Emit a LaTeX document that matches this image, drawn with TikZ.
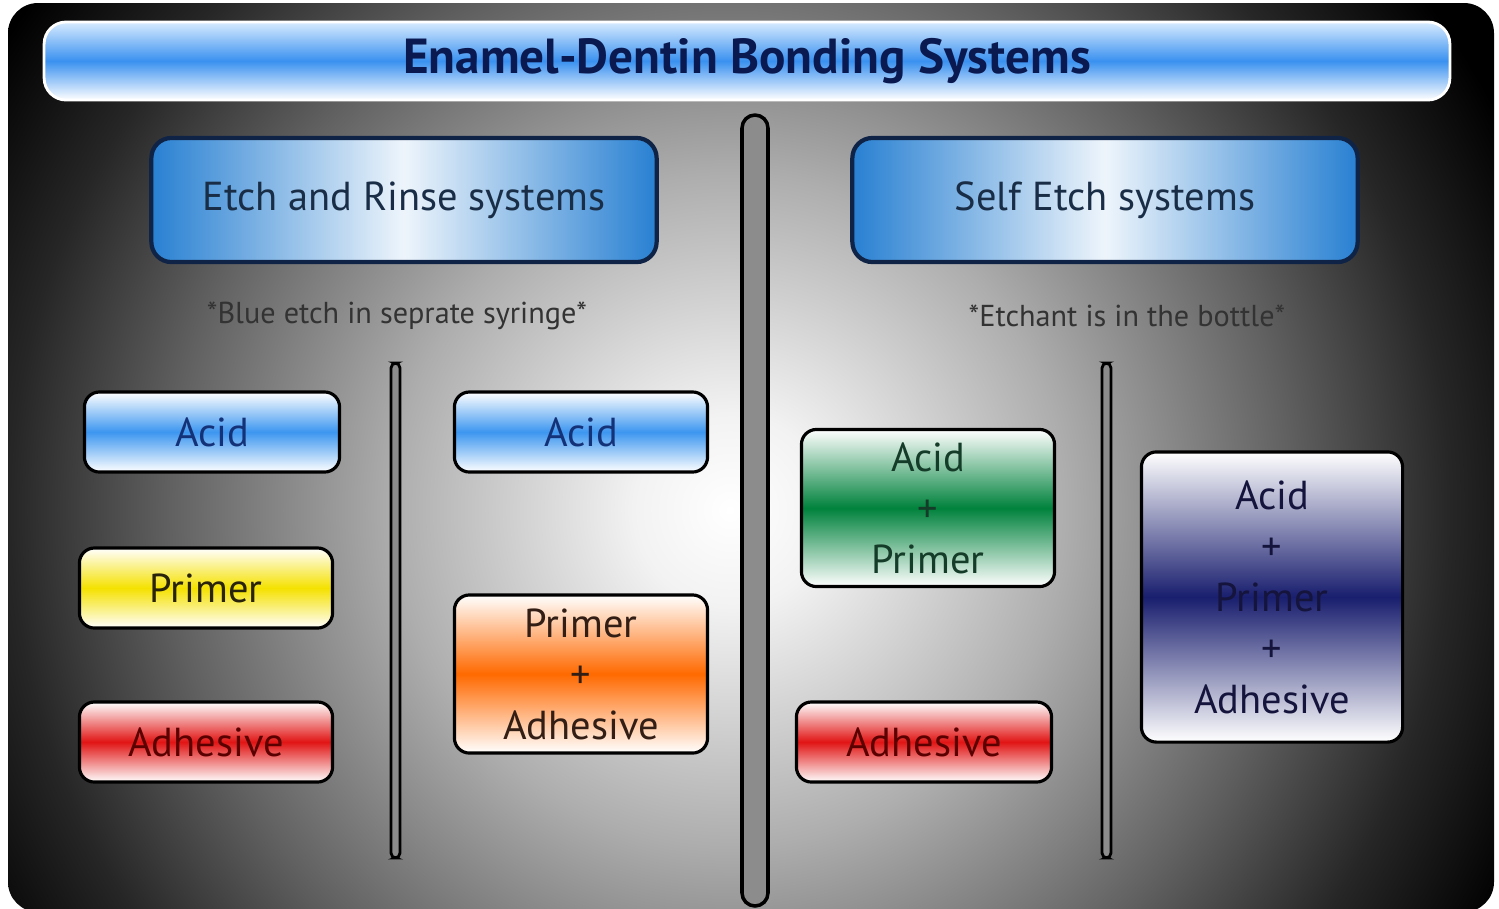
\documentclass[tikz,border=0pt]{standalone}
\usepackage{fontspec}
\setmainfont{PT Sans}
\pgfdeclareradialshading{panelglow}{\pgfpoint{0bp}{0bp}}{color(0bp)=(white); color(3bp)=(white!95!black); color(10.5bp)=(black!32); color(17.5bp)=(black!62); color(22.5bp)=(black!85); color(27bp)=(black); color(40bp)=(black)}
\definecolor{titleblue}{RGB}{58,145,240}
\definecolor{titletop}{RGB}{215,235,255}
\definecolor{titletext}{RGB}{10,25,80}
\definecolor{headblue}{RGB}{40,128,210}
\definecolor{headline}{RGB}{15,35,70}
\definecolor{headtext}{RGB}{25,45,70}
\definecolor{acidblue}{RGB}{60,150,240}
\definecolor{acidtext}{RGB}{20,50,120}
\definecolor{primeryellow}{RGB}{245,225,0}
\definecolor{primertext}{RGB}{40,35,10}
\definecolor{adhesivered}{RGB}{225,20,20}
\definecolor{adhesivetext}{RGB}{90,0,0}
\definecolor{mixorange}{RGB}{255,105,0}
\definecolor{mixtext}{RGB}{50,30,20}
\definecolor{selfgreen}{RGB}{0,130,60}
\definecolor{selftext}{RGB}{20,60,40}
\definecolor{allnavy}{RGB}{25,30,110}
\definecolor{alltext}{RGB}{20,20,60}
\definecolor{bargray}{RGB}{140,140,140}
\begin{document}
\begin{tikzpicture}[
    x=0.01cm, y=-0.01cm,
    titlebar/.style={draw=white, line width=0.8pt, rounded corners=0.22cm,
      top color=titletop, bottom color=white, middle color=titleblue,
      minimum width=14.05cm, minimum height=0.78cm, text=titletext,
      font=\bfseries\fontsize{14}{16}\selectfont},
    header/.style={draw=headline, line width=1.2pt, rounded corners=0.2cm,
      left color=headblue, right color=headblue, middle color=white!92!headblue,
      minimum width=5.05cm, minimum height=1.24cm, text=headtext,
      font=\fontsize{11.5}{13}\selectfont},
    note/.style={text=black!80, font=\fontsize{8.6}{10}\selectfont},
    pill/.style={draw=black, line width=0.9pt, rounded corners=0.15cm,
      top color=white, bottom color=white, minimum width=2.53cm,
      minimum height=0.8cm, align=center, inner sep=0pt,
      font=\fontsize{11.5}{14.5}\selectfont},
    bar/.style={draw=black, line width=1pt, fill=bargray},
  ]
  \useasboundingbox (0,0) rectangle (1499,908);
  \fill[white] (0,0) rectangle (1499,908);
  \begin{scope}
    \clip[rounded corners=0.3cm] (8,3) rectangle (1494,912);
    \shade[shading=panelglow] (-70,-290) rectangle (1530,1310);
  \end{scope}
  % title and dividers
  \node[titlebar] (title) at (747,61) {Enamel-Dentin Bonding Systems};
  \draw[bar, rounded corners=0.13cm] (742,115) rectangle (768,906);
  \draw[bar, line width=0.8pt, rounded corners=0.05cm] (391,363) rectangle (400,858);
  \draw[bar, line width=0.8pt, rounded corners=0.05cm] (1102,363) rectangle (1111,858);
  % etch and rinse
  \node[header] (etchrinse) at (404,200) {Etch and Rinse systems};
  \node[note] (etchnote) at (397,316) {*Blue etch in seprate syringe*};
  \node[pill, middle color=acidblue, text=acidtext, minimum width=2.55cm] (acid) at (212,432) {Acid};
  \node[pill, middle color=primeryellow, text=primertext] (primer) at (206,588) {Primer};
  \node[pill, middle color=adhesivered, text=adhesivetext] (adhesive) at (206,742) {Adhesive};
  \node[pill, middle color=acidblue, text=acidtext] (acidtwo) at (581,432) {Acid};
  \node[pill, middle color=mixorange, text=mixtext, minimum height=1.58cm] (primeradhesive) at (581,674) {Primer\\+\\Adhesive};
  % self etch
  \node[header] (selfetch) at (1105,200) {Self Etch systems};
  \node[note] (selfnote) at (1127,316) {*Etchant is in the bottle*};
  \node[pill, middle color=selfgreen, text=selftext, minimum height=1.57cm] (acidprimer) at (928,508) {Acid\\+\\Primer};
  \node[pill, middle color=adhesivered, text=adhesivetext, minimum width=2.55cm] (adhesivetwo) at (924,742) {Adhesive};
  \node[pill, middle color=allnavy, text=alltext, minimum width=2.61cm, minimum height=2.9cm] (allinone) at (1272,597) {Acid\\+\\Primer\\+\\Adhesive};
\end{tikzpicture}
\end{document}
